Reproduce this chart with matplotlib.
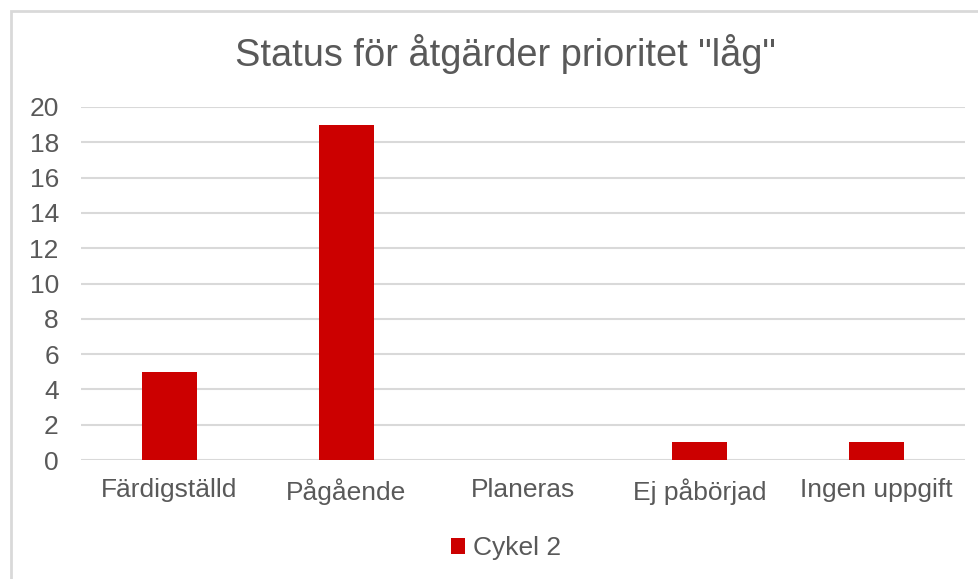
import matplotlib.pyplot as plt
from matplotlib.patches import Rectangle

categories = ["Färdigställd", "Pågående", "Planeras", "Ej påbörjad", "Ingen uppgift"]
cykel2 = [5, 19, 0, 1, 1]
yticks = [0, 2, 4, 6, 8, 10, 12, 14, 16, 18, 20]

plt.rcParams['font.family'] = ['Liberation Sans', 'DejaVu Sans']
grey = '#595959'

W, H = 979, 579
fig = plt.figure(figsize=(W / 100, H / 100), dpi=100)

# chart border (runs off the right and bottom edges like the screenshot)
fig.patches.append(Rectangle((10.5 / W, -0.05), 1.1, 1 - 10.5 / H + 0.05,
                             transform=fig.transFigure, fill=False,
                             edgecolor='#D9D9D9', linewidth=2))

ax = fig.add_axes([81 / W, 1 - 460 / H, (965 - 81) / W, (460 - 107) / H])

x = range(len(categories))
ax.bar(x, cykel2, width=0.31, color='#CC0000', label='Cykel 2', zorder=3)

ax.set_xlim(-0.5, len(categories) - 0.5)
ax.set_ylim(0, 20)
ax.set_yticks(yticks)
ax.set_xticks(list(x))
ax.set_xticklabels(categories)
ax.tick_params(axis='both', length=0, labelsize=19, colors=grey)
ax.tick_params(axis='x', pad=13)
ax.tick_params(axis='y', pad=16)
ax.grid(axis='y', color='#D9D9D9', linewidth=1.5, zorder=0)
for s in ax.spines.values():
    s.set_visible(False)

fig.text(505 / W, 1 - 54 / H, 'Status för åtgärder prioritet "låg"',
         ha='center', va='center', fontsize=27.4, color=grey)

fig.legend(loc='center', bbox_to_anchor=(506 / W, 1 - 548 / H), frameon=False,
           fontsize=19, labelcolor=grey, handlelength=0.55, handleheight=0.55,
           handletextpad=0.3)

fig.savefig('out.png', dpi=100)
